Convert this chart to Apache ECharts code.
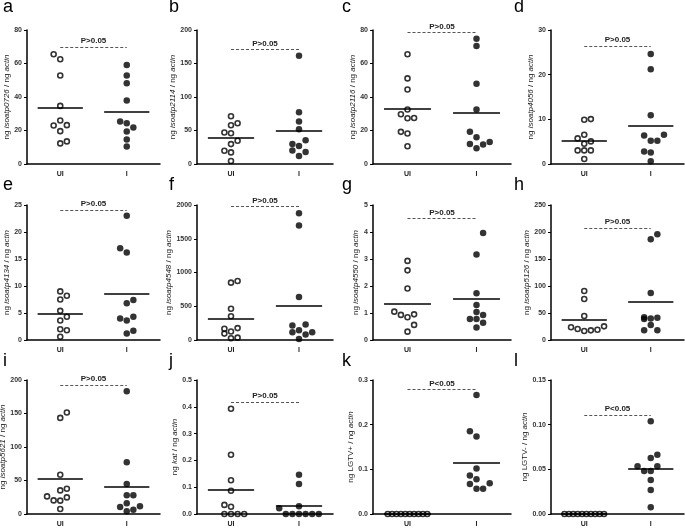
<!DOCTYPE html>
<html><head><meta charset="utf-8">
<script src="https://cdn.jsdelivr.net/npm/echarts@6/dist/echarts.min.js"></script>
<style>html,body{margin:0;padding:0;background:#fff}#c{width:685px;height:528px}</style>
</head><body><div id="c"></div>
<script>
const categories = ['UI', 'I'];

// ---- panel a ----
const aUI = [65.5, 62.5, 52.8, 34.7, 26.0, 23.0, 23.2, 19.6, 12.3, 13.5];
const aI = [59.1, 52.8, 48.2, 37.9, 25.4, 24.4, 21.8, 19.4, 14.7, 10.5];
const aMeans = [33.3, 31.3];
const aP = 70;
const aTicks = ['0', '20', '40', '60', '80'];
// ---- panel b ----
const bUI = [71.3, 57.9, 60.9, 47.0, 46.0, 34.7, 29.7, 19.8, 17.3, 4.5];
const bI = [161.4, 77.2, 63.4, 52.0, 29.7, 35.6, 26.7, 20.3, 17.8, 11.9];
const bMeans = [39.6, 49.0];
const bP = 171;
const bTicks = ['0', '50', '100', '150', '200'];
// ---- panel c ----
const cUI = [65.5, 51.1, 44.5, 32.5, 29.7, 27.3, 27.5, 19.2, 18.2, 10.6];
const cI = [74.8, 70.5, 47.9, 32.5, 19.2, 16.0, 12.0, 11.6, 13.2, 9.4];
const cMeans = [32.9, 30.5];
const cP = 78.6;
const cTicks = ['0', '20', '40', '60', '80'];
// ---- panel d ----
const dUI = [9.9, 10.05, 6.55, 5.73, 5.06, 4.54, 3.05, 3.05, 3.05, 1.12];
const dI = [24.6, 21.2, 10.9, 6.4, 6.55, 5.2, 5.2, 2.8, 2.6, 0.6];
const dMeans = [5.2, 8.6];
const dP = 26.4;
const dTicks = ['0', '10', '20', '30'];
// ---- panel e ----
const eUI = [9.0, 8.2, 7.5, 5.4, 4.3, 3.6, 2.0, 1.8, 0.6];
const eI = [23.0, 17.0, 16.2, 7.4, 6.8, 4.3, 4.0, 3.6, 1.7, 1.2];
const eMeans = [4.8, 8.5];
const eP = 24.1;
const eTicks = ['0', '5', '10', '15', '20', '25'];
// ---- panel f ----
const fUI = [850, 875, 462, 352, 166, 95, 126, 176, 25, 35];
const fI = [1879, 1698, 638, 216, 231, 146, 116, 116, 80, 15];
const fMeans = [317, 513];
const fP = 1975;
const fTicks = ['0', '500', '1000', '1500', '2000'];
// ---- panel g ----
const gUI = [2.93, 2.58, 1.91, 1.05, 0.93, 0.95, 0.84, 0.56, 0.31];
const gI = [3.96, 3.17, 1.73, 1.30, 1.04, 0.93, 0.78, 0.78, 0.64, 0.46];
const gMeans = [1.35, 1.51];
const gP = 4.5;
const gTicks = ['0', '1', '2', '3', '4', '5'];
// ---- panel h ----
const hUI = [90.7, 76, 44.4, 23.5, 20.4, 16.7, 17.9, 19.1, 25.3];
const hI = [186.4, 195.7, 87, 42, 40, 41.4, 38.9, 27.8, 17.9, 17.9];
const hMeans = [38.3, 70.4];
const hP = 207;
const hTicks = ['0', '50', '100', '150', '200', '250'];
// ---- panel i ----
const iUI = [143.4, 151.4, 58.6, 35.2, 37.7, 26.3, 20.3, 19.9, 24.8, 7.4];
const iI = [183.1, 77.4, 44.7, 27.8, 27.8, 15.9, 10.4, 11.4, 4.0, 6.5];
const iMeans = [52.6, 40.7];
const iP = 192.6;
const iTicks = ['0', '50', '100', '150', '200'];
// ---- panel j ----
const jUI = [0.393, 0.221, 0.126, 0.087, 0.034, 0.027, 0, 0, 0, 0];
const jI = [0.146, 0.112, 0.029, 0.021, 0, 0, 0, 0, 0, 0];
const jMeans = [0.0896, 0.031];
const jP = 0.417;
const jTicks = ['0.0', '0.1', '0.2', '0.3', '0.4', '0.5'];
// ---- panel k ----
const kUI = [0, 0, 0, 0, 0, 0, 0, 0, 0, 0];
const kI = [0.2666, 0.1854, 0.1735, 0.102, 0.0864, 0.078, 0.067, 0.069, 0.0566, 0.0566];
const kMeans = [0, 0.114];
const kP = 0.279;
const kTicks = ['0.0', '0.1', '0.2', '0.3'];
// ---- panel l ----
const lUI = [0, 0, 0, 0, 0, 0, 0, 0, 0, 0];
const lI = [0.1037, 0.0664, 0.0627, 0.0534, 0.0534, 0.0481, 0.0481, 0.0381, 0.0269, 0.0075];
const lMeans = [0, 0.0511];
const lP = 0.111;
const lTicks = ['0.00', '0.05', '0.10', '0.15'];

const letters = ['a','b','c','d','e','f','g','h','i','j','k','l'];
const genes = ['isoatp0726','isoatp2114','isoatp2116','isoatp4056','isoatp4134','isoatp4548','isoatp4550','isoatp5126','isoatp5621','kat','LGTV+','LGTV-'];
const geneItalic = [true,true,true,true,true,true,true,true,true,true,false,false];
const pLabels = ['P>0.05','P>0.05','P>0.05','P>0.05','P>0.05','P>0.05','P>0.05','P>0.05','P>0.05','P>0.05','P<0.05','P<0.05'];

// horizontal jitter slots (layout only)
const jitUI = [
  [-1,0,0,0,0,-1,1,0,0,1], [0,0,1,-1,0,1,0,-1,0,0], [0,0,0,0,-1,0,1,-1,0,0], [0,1,0,-1,1,0,-1,0,1,0],
  [0,1,0,0,1,0,0,1,0], [0,1,0,0,-1,-1,0,1,0,1], [0,0,0,-2,-1,1,0,1,0], [0,0,0,-2,-1,0,1,2,3],
  [0,1,0,0,1,-2,-1,0,1,0], [0,0,0,0,-1,0,-1,0,1,2],
  [-3,-2.33,-1.67,-1,-0.33,0.33,1,1.67,2.33,3], [-3,-2.33,-1.67,-1,-0.33,0.33,1,1.67,2.33,3]
];
const jitI = [
  [0,0,0,0,-1,0,1,0,0,0], [0,0,0,0,-1,1,0,-1,1,0], [0,0,0,0,-1,0,-1,1,2,0], [0,0,0,-1,2,0,1,-1,0,0],
  [0,-1,0,1,0,1,-1,0,1,0], [0,0,0,-1,1,0,-1,2,1,0], [1,0,0,0,0,1,-1,0,1,0], [0,1,0,-1,0,1,-1,0,-1,1],
  [0,0,0,0,1,0,-1,2,0,1], [0,0,0,-3,-2,-1,0,1,2,3],
  [0,-1,0,0,-1,0,-1,2,0,1], [0,1,0,-2,1,-1,0,0,0,0]
];

const UIs = [aUI,bUI,cUI,dUI,eUI,fUI,gUI,hUI,iUI,jUI,kUI,lUI];
const Is = [aI,bI,cI,dI,eI,fI,gI,hI,iI,jI,kI,lI];
const Means = [aMeans,bMeans,cMeans,dMeans,eMeans,fMeans,gMeans,hMeans,iMeans,jMeans,kMeans,lMeans];
const Ps = [aP,bP,cP,dP,eP,fP,gP,hP,iP,jP,kP,lP];
const Ticks = [aTicks,bTicks,cTicks,dTicks,eTicks,fTicks,gTicks,hTicks,iTicks,jTicks,kTicks,lTicks];

// layout
const colLeft = [27, 197, 373, 551];
const colWidth = [133, 136, 138, 133];
const rowTop = [30, 205, 380];
const rowH = [134, 135, 134];
const nameGaps = [11, 10, 9, 14, 13, 20, 9, 14, 10, 15, 14, 20];
const letterX = [3, 169, 342, 514];
const letterY = [-2, 176, 352];
const JIT = 6.6;
const HALF = 0.34;
const FONT = 'Liberation Sans, Arial, sans-serif';

const grids = [], xAxes = [], yAxes = [], series = [], titles = [];
for (let p = 0; p < 12; p++) {
  const r = Math.floor(p / 4), c = p % 4;
  grids.push({left: colLeft[c], width: colWidth[c], top: rowTop[r], height: rowH[r], outerBoundsMode: 'none', containLabel: false});
  const tk = Ticks[p];
  const tmin = parseFloat(tk[0]), tint = parseFloat(tk[1]) - parseFloat(tk[0]), tmax = parseFloat(tk[tk.length - 1]);
  xAxes.push({
    gridIndex: p, type: 'value', min: 0, max: 2, interval: 0.5,
    axisLine: {show: true, onZero: false, lineStyle: {color: '#000', width: 1.5}},
    axisTick: {show: false}, splitLine: {show: false},
    axisLabel: {margin: 7, fontSize: 7, color: '#222', fontFamily: FONT, fontWeight: 'bold',
      formatter: v => Math.abs(v - 0.5) < 1e-6 ? categories[0] : (Math.abs(v - 1.5) < 1e-6 ? categories[1] : '')}
  });
  const gname = geneItalic[p] ? '{n|ng }{i|' + genes[p] + '}{n| / ng }{i|actin}' : '{n|ng ' + genes[p] + ' / ng }{i|actin}';
  yAxes.push({
    gridIndex: p, type: 'value', min: tmin, max: tmax, interval: tint,
    name: gname, nameLocation: 'middle', nameRotate: 90, nameGap: nameGaps[p],
    nameTextStyle: {rich: {n: {fontSize: 8, color: '#222', fontFamily: FONT}, i: {fontSize: 8, color: '#222', fontFamily: FONT, fontStyle: 'italic'}}},
    axisLine: {show: true, lineStyle: {color: '#000', width: 1.5}},
    axisTick: {show: true, length: 3, lineStyle: {color: '#000', width: 1}},
    splitLine: {show: false},
    axisLabel: {margin: 5, fontSize: 7, color: '#333', fontFamily: FONT, fontWeight: 'bold',
      formatter: v => tk[Math.round((v - tmin) / tint)]}
  });
  const m = Means[p];
  series.push({
    type: 'scatter', xAxisIndex: p, yAxisIndex: p, symbol: 'circle', symbolSize: 5,
    itemStyle: {color: 'rgba(255,255,255,0)', borderColor: '#000', borderWidth: 1.6},
    data: UIs[p].map((v, k) => ({value: [0.5, v], symbolOffset: [jitUI[p][k] * JIT, 0]})),
    silent: true, z: 3,
    markLine: {silent: true, symbol: ['none', 'none'], animation: false, label: {show: false},
      lineStyle: {color: '#000', width: 1.6, type: 'solid'},
      data: [[{coord: [0.5 - HALF, m[0]]}, {coord: [0.5 + HALF, m[0]]}],
             [{coord: [1.5 - HALF, m[1]]}, {coord: [1.5 + HALF, m[1]]}]]}
  });
  series.push({
    type: 'scatter', xAxisIndex: p, yAxisIndex: p, symbol: 'circle', symbolSize: 6.5,
    itemStyle: {color: '#000'},
    data: Is[p].map((v, k) => ({value: [1.5, v], symbolOffset: [jitI[p][k] * JIT, 0]})),
    silent: true, z: 3,
    markLine: {silent: true, symbol: ['none', 'none'], animation: false,
      lineStyle: {color: '#555', width: 1, type: [3, 2]},
      label: {show: true, position: 'insideMiddleTop', distance: 2, formatter: pLabels[p], fontSize: 8, color: '#222', fontFamily: FONT, fontWeight: 'bold'},
      data: [[{coord: [0.5, Ps[p]]}, {coord: [1.5, Ps[p]]}]]}
  });
  titles.push({text: letters[p], left: letterX[c], top: letterY[r], padding: 0,
    textStyle: {fontSize: 18, fontWeight: 'normal', color: '#000', fontFamily: FONT}});
}

const chart = echarts.init(document.getElementById('c'), null, {renderer: 'canvas'});
chart.setOption({animation: false, backgroundColor: '#fff', title: titles, grid: grids, xAxis: xAxes, yAxis: yAxes, series: series});
</script></body></html>
